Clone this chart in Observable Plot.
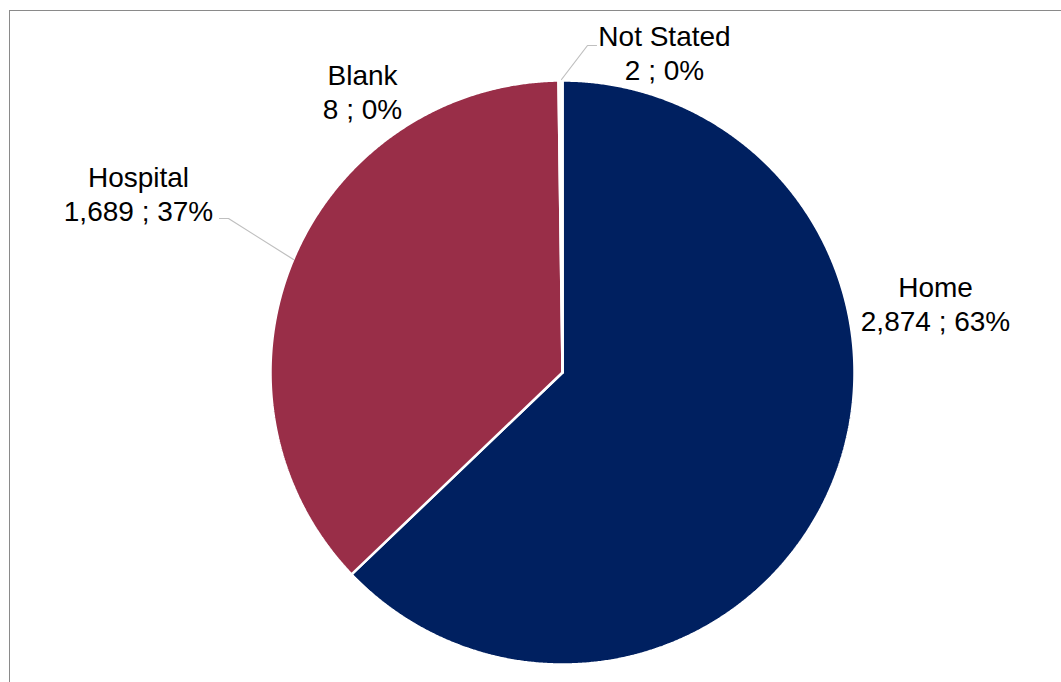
<!DOCTYPE html>
<html>
<head>
<meta charset="utf-8">
<script src="https://cdn.jsdelivr.net/npm/d3@7"></script>
<script src="https://cdn.jsdelivr.net/npm/@observablehq/plot@0.6"></script>
<style>
  html, body { margin: 0; padding: 0; background: #fff; overflow: hidden; }
  #wrap { position: relative; width: 1061px; height: 682px; }
  #frame { position: absolute; left: 9px; top: 10px; width: 1200px; height: 800px;
           border-left: 1.5px solid #8a8a8a; border-top: 1.5px solid #8a8a8a; pointer-events: none; }
  #chart { position: absolute; left: 0; top: 0; }
</style>
</head>
<body>
<div id="wrap"><div id="chart"></div><div id="frame"></div></div>
<script>
// ---- data ----
const categories = ["Home", "Hospital", "Blank", "Not Stated"];
const values = [2874, 1689, 8, 2];
const colors = ["#002060", "#992E48", "#FBF3E4", "#FFFFFF"];

// ---- layout ----
const W = 1061, H = 682;
const cx = 562, cy = 372, R = 292;
const labelPos = {
  "Home": [935, 303],
  "Hospital": [138, 193],
  "Blank": [362, 91],
  "Not Stated": [664, 52]
};
const leaders = {
  "Hospital": [[219, 218], [228, 218], [293, 259]],
  "Not Stated": [[596, 45], [587, 45], [561, 79]]
};

const total = d3.sum(values);
const table = categories.map((c, i) => ({category: c, value: values[i]}));
const arcs = d3.pie().value(d => d.value).sort(null).startAngle(0).endAngle(2 * Math.PI)(table);

// polygons for slices
const poly = [];
arcs.forEach(a => {
  const c = a.data.category;
  poly.push({category: c, x: cx, y: cy});
  const n = Math.max(2, Math.ceil((a.endAngle - a.startAngle) / 0.005));
  for (let k = 0; k <= n; k++) {
    const t = a.startAngle + (a.endAngle - a.startAngle) * k / n;
    poly.push({category: c, x: cx + R * Math.sin(t), y: cy - R * Math.cos(t)});
  }
  poly.push({category: c, x: cx, y: cy});
});

const labels = table.map(d => ({
  category: d.category,
  x: labelPos[d.category][0],
  y: labelPos[d.category][1],
  text: d.category + "\n" + d3.format(",")(d.value) + " ; " + Math.round(d.value / total * 100) + "%"
}));

const leaderPts = [];
Object.entries(leaders).forEach(([c, pts]) => pts.forEach(p => leaderPts.push({category: c, x: p[0], y: p[1]})));

const chart = Plot.plot({
  width: W,
  height: H,
  margin: 0,
  x: {domain: [0, W], range: [0, W], axis: null},
  y: {domain: [0, H], range: [0, H], axis: null},
  color: {domain: categories, range: colors},
  style: {background: "transparent", fontFamily: "Liberation Sans, Arial, sans-serif"},
  marks: [
    Plot.line(poly, {x: "x", y: "y", z: "category", fill: "category", stroke: "#ffffff", strokeWidth: 2.5, strokeLinejoin: "miter", curve: "linear"}),
    Plot.line(leaderPts, {x: "x", y: "y", z: "category", stroke: "#bfbfbf", strokeWidth: 1.2}),
    Plot.text(labels, {x: "x", y: "y", text: "text", fontSize: 28, lineHeight: 1.2, lineAnchor: "middle", textAnchor: "middle", fill: "#000000"})
  ]
});
document.getElementById("chart").appendChild(chart);
</script>
</body>
</html>
